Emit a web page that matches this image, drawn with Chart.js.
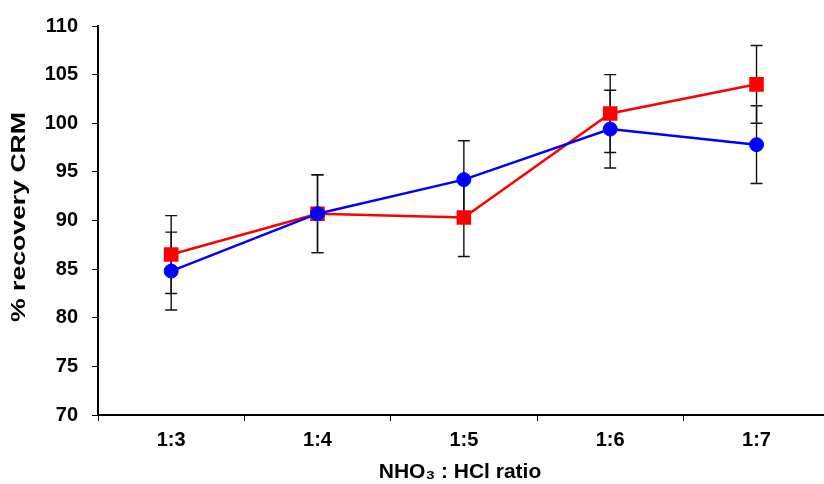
<!DOCTYPE html>
<html>
<head>
<meta charset="utf-8">
<script src="https://cdn.jsdelivr.net/npm/chart.js"></script>
<style>
  body { margin: 0; padding: 0; background: #fff; overflow: hidden; }
  #wrap { width: 840px; height: 484px; }
</style>
</head>
<body>
<div id="wrap"><canvas id="chart" width="840" height="484"></canvas></div>
<script>
const ratios = ['1:3', '1:4', '1:5', '1:6', '1:7'];
const redMean = [86.5, 90.7, 90.3, 101.0, 104.0];
const redErr = [4.0, 4.0, 4.0, 4.0, 4.0];
const blueMean = [84.8, 90.7, 94.2, 99.4, 97.8];
const blueErr = [4.0, 4.0, 4.0, 4.0, 4.0];
const yTicks = [70, 75, 80, 85, 90, 95, 100, 105, 110];

const FONT = "Arial, 'Liberation Sans', sans-serif";

// error bars, drawn under the lines and markers
const errorBars = {
  id: 'errorBars',
  beforeDatasetsDraw(chart) {
    const ctx = chart.ctx;
    const xs = chart.scales.x, ys = chart.scales.y;
    const sets = [[redMean, redErr], [blueMean, blueErr]];
    ctx.save();
    ctx.strokeStyle = '#111';
    ctx.lineWidth = 1.4;
    sets.forEach(([mean, err]) => {
      mean.forEach((m, i) => {
        const x = xs.getPixelForValue(i);
        const top = ys.getPixelForValue(m + err[i]);
        const bot = ys.getPixelForValue(m - err[i]);
        ctx.beginPath();
        ctx.moveTo(x, top); ctx.lineTo(x, bot);
        ctx.moveTo(x - 6, top); ctx.lineTo(x + 6, top);
        ctx.moveTo(x - 6, bot); ctx.lineTo(x + 6, bot);
        ctx.stroke();
      });
    });
    ctx.restore();
  }
};

// axis titles (y one is stretched along its length like the original)
const axisTitles = {
  id: 'axisTitles',
  afterDraw(chart) {
    const ctx = chart.ctx;
    ctx.save();
    ctx.fillStyle = '#000';
    ctx.textAlign = 'center';
    ctx.textBaseline = 'middle';
    ctx.font = 'bold 21px ' + FONT;
    ctx.fillText('NHO\u2083 : HCl ratio', 460, 472);
    ctx.translate(19, 217);
    ctx.rotate(-Math.PI / 2);
    ctx.scale(1.33, 1);
    ctx.font = 'bold 20px ' + FONT;
    ctx.fillText('% recovery CRM', 0, 0);
    ctx.restore();
  }
};

new Chart(document.getElementById('chart'), {
  type: 'line',
  data: {
    labels: ratios,
    datasets: [
      {
        label: 'red',
        data: redMean,
        borderColor: '#ff0000',
        backgroundColor: '#ff0000',
        borderWidth: 2.5,
        pointStyle: 'rect',
        pointRadius: 10.3,
        pointBorderWidth: 0,
        order: 1
      },
      {
        label: 'blue',
        data: blueMean,
        borderColor: '#0000ff',
        backgroundColor: '#0000ff',
        borderWidth: 2.5,
        pointStyle: 'circle',
        pointRadius: 7,
        pointBorderWidth: 1,
        order: 0
      }
    ]
  },
  options: {
    responsive: false,
    animation: false,
    layout: { padding: { top: 24, right: 6.4, left: 0, bottom: 0 } },
    plugins: { legend: { display: false }, tooltip: { enabled: false } },
    scales: {
      x: {
        offset: true,
        grid: { offset: true, drawOnChartArea: false, drawTicks: true, tickLength: 6, color: '#000', lineWidth: 1 },
        border: { color: '#000', width: 2 },
        ticks: { color: '#000', font: { family: FONT, size: 20, weight: 'bold' }, padding: 7, maxRotation: 0 },
        afterFit(scale) { scale.height = 69; }
      },
      y: {
        min: 70,
        max: 110,
        afterBuildTicks(scale) { scale.ticks = yTicks.map(v => ({ value: v })); },
        grid: { drawOnChartArea: false, drawTicks: true, tickLength: 6, color: '#000', lineWidth: 1 },
        border: { color: '#000', width: 2 },
        ticks: { color: '#000', font: { family: FONT, size: 20, weight: 'bold' }, padding: 14 },
        afterFit(scale) { scale.width = 98; }
      }
    }
  },
  plugins: [errorBars, axisTitles]
});
</script>
</body>
</html>
